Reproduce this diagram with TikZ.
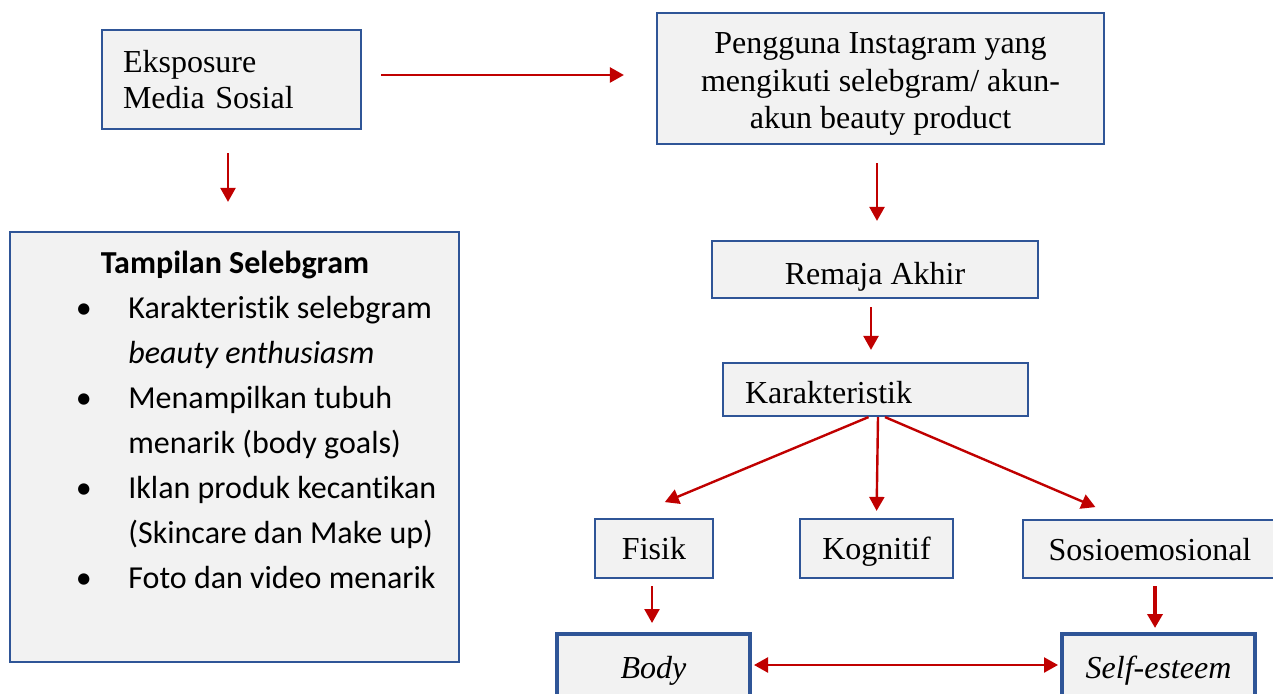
\documentclass[tikz,border=0pt]{standalone}
\usepackage{fontspec}
\setmainfont{Liberation Serif}
\newfontfamily\calibri[Ligatures=NoCommon]{Carlito}
\usetikzlibrary{arrows.meta}
\definecolor{boxblue}{RGB}{47,85,151}
\definecolor{boxgray}{RGB}{242,242,242}
\definecolor{arrowred}{RGB}{192,0,0}
\newcommand{\bul}{\llap{\textbullet\hspace{18.3pt}}}
\begin{document}
\begin{tikzpicture}
    [x=0.5pt,y=-0.5pt,
     box/.style={draw=boxblue,fill=boxgray,line width=1.1pt,inner sep=0pt,font=\fontsize{16}{18.3}\selectfont},
     thickbox/.style={box,line width=2pt},
     lift/.style={text height=#1,text depth=0pt},
     post/.style={->,>={Triangle[length=7pt,width=7.5pt]},arrowred,line width=1.2pt},
     listtext/.style={font=\calibri\fontsize{16}{22.5}\selectfont}]
    \useasboundingbox (0,0) rectangle (1273,694);
    \node [box,minimum width=129.5pt,minimum height=49.5pt,text width=108.5pt,align=left] (eks) at (231.5,79.5) {Eksposure\\Media Sosial};
    \node [box,minimum width=223.5pt,minimum height=65.5pt,align=center,font=\fontsize{16}{18.7}\selectfont] (png) at (880.5,78.5)
      {\rule{0pt}{16pt}Pengguna Instagram yang\\mengikuti selebgram/ akun-\\akun beauty product};
    \node [box,minimum width=224.5pt,minimum height=215pt] (sel) at (234.5,447) {};
    \node [font=\calibri\fontsize{16}{22.5}\selectfont\bfseries,anchor=base] (ttl) at (235,274) {Tampilan Selebgram};
    \node [listtext,align=left,anchor=north west,inner sep=0pt] (lst) at (128,296)
      {\bul Karakteristik selebgram\\
       \textit{beauty enthusiasm}\\
       \bul Menampilkan tubuh\\
       menarik (body goals)\\
       \bul Iklan produk kecantikan\\
       (Skincare dan Make up)\\
       \bul Foto dan video menarik};
    \node [box,lift=14.7pt,minimum width=163pt,minimum height=28.5pt] (rem) at (875,269.5) {Remaja Akhir};
    \node [box,lift=14.2pt,minimum width=152.5pt,minimum height=26.5pt,text width=130.5pt,align=left] (kar) at (875.5,389.5) {Karakteristik};
    \node [box,lift=10.8pt,minimum width=59pt,minimum height=29.5pt] (fis) at (654,548.5) {Fisik};
    \node [box,lift=10.8pt,minimum width=76.5pt,minimum height=29.5pt] (kog) at (876.5,548.5) {Kognitif};
    \node [box,lift=11.7pt,minimum width=127pt,minimum height=29pt] (sos) at (1150,549) {Sosioemosional};
    \node [thickbox,lift=10.3pt,minimum width=96.5pt,minimum height=34pt] (bod) at (653.5,668) {\textit{Body}};
    \node [thickbox,lift=10.3pt,minimum width=96.5pt,minimum height=34pt] (slf) at (1158.5,668) {\textit{Self-esteem}};
    % connectors
    \draw [post,shorten <=9.5pt,shorten >=16pt] ([yshift=2.25pt]eks.east) -- ([yshift=2.25pt]eks.east -| png.west);
    \draw [post,shorten <=11.5pt,shorten >=14.5pt] ([xshift=-1.75pt]eks.south) -- ([xshift=-1.75pt]eks.south |- sel.north);
    \draw [post,shorten <=9pt,shorten >=9.5pt] ([xshift=-1.75pt]png.south) -- ([xshift=-1.75pt]png.south |- rem.north);
    \draw [post,shorten <=4pt,shorten >=6pt] ([xshift=-2pt]rem.south) -- ([xshift=-2pt]rem.south |- kar.north);
    \draw [post,shorten >=20.5pt] ([xshift=-3.5pt]kar.south) -- ([xshift=-13.5pt]fis.north);
    \draw [post,shorten >=3.5pt] ([xshift=1.25pt]kar.south) -- (kog.north);
    \draw [post,shorten >=15pt] ([xshift=4.75pt]kar.south) -- ([xshift=-13.5pt]sos.north);
    \draw [post,shorten <=3.5pt,shorten >=4.5pt] ([xshift=-1pt]fis.south) -- ([xshift=-1pt]fis.south |- bod.north);
    \draw [post,line width=2pt,shorten <=3.5pt,shorten >=2pt] ([xshift=-1.75pt]slf.north |- sos.south) -- ([xshift=-1.75pt]slf.north);
    \draw [post,<->,shorten <=1pt,shorten >=1pt] ([yshift=1.5pt]bod.east) -- ([yshift=1.5pt]bod.east -| slf.west);
  \end{tikzpicture}
\end{document}
